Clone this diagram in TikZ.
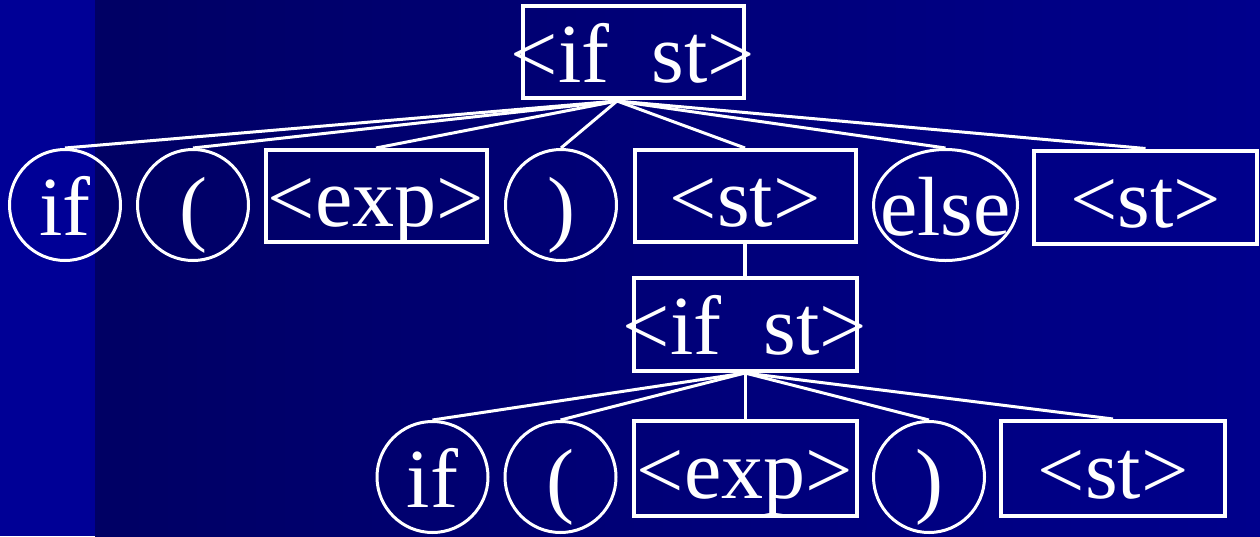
\documentclass[tikz,border=0pt]{standalone}
\usepackage{fontspec}
\setmainfont{Liberation Serif}
\usetikzlibrary{shapes.geometric}
\definecolor{stripblue}{RGB}{0,0,150}
\definecolor{navyleft}{RGB}{0,0,100}
\definecolor{navyright}{RGB}{0,0,140}
\newcommand{\tok}[1]{\makebox[0pt]{#1}}

\begin{document}
\begin{tikzpicture}[x=1pt, y=-1pt,
  nt/.style={draw=white, line width=4pt, rectangle, inner sep=0pt, minimum width=221pt, minimum height=92pt, text height=60pt, text depth=0pt, text=white, font=\fontsize{84}{90}\selectfont},
  tm/.style={draw=white, line width=3pt, circle, inner sep=0pt, minimum size=111pt, text height=60pt, text depth=0pt, text=white, font=\fontsize{84}{90}\selectfont},
  link/.style={draw=white, line width=3pt}
]
% background
\useasboundingbox (0,0) rectangle (1260,536);
\fill[stripblue] (0,0) rectangle (95,536);
\shade[left color=navyleft, right color=navyright] (95,0) rectangle (1260,536);

% root
\node[nt] (ifst) at (633,52) {\tok{<if\ \ st>}};
\coordinate (hub) at (617,101);

% first level
\node[tm] (if1) at (65,205) {\tok{if}};
\node[tm] (lp1) at (193,205) {\tok{(}};
\node[nt] (exp1) at (376,196) {\tok{<exp>}};
\node[tm] (rp1) at (561,205) {\tok{)}};
\node[nt] (st1) at (745,196) {\tok{<st>}};
\node[tm, ellipse, minimum width=144pt, minimum height=111pt] (else) at (945.5,205) {\tok{else}};
\node[nt, minimum width=223pt, minimum height=93pt] (st2) at (1145.5,197) {\tok{<st>}};

\foreach \c in {if1,lp1,exp1,rp1,st1,else,st2}
  \draw[link] (hub) -- (\c.north);

% nested if
\node[nt, minimum width=223pt, minimum height=93pt] (ifst2) at (745,324.5) {\tok{<if\ \ st>}};
\draw[link, line width=4pt] (st1.south) -- (ifst2.north);

\node[tm] (if2) at (432.5,477) {\tok{if}};
\node[tm] (lp2) at (560.5,477) {\tok{(}};
\node[nt, minimum width=223pt, minimum height=95pt] (exp2) at (745,468.5) {\tok{<exp>}};
\node[tm] (rp2) at (929,477) {\tok{)}};
\node[nt, minimum width=224pt, minimum height=95pt] (st3) at (1113,468.5) {\tok{<st>}};

\foreach \c in {if2,lp2,exp2,rp2,st3}
  \draw[link] (ifst2.south) -- (\c.north);
\end{tikzpicture}
\end{document}
